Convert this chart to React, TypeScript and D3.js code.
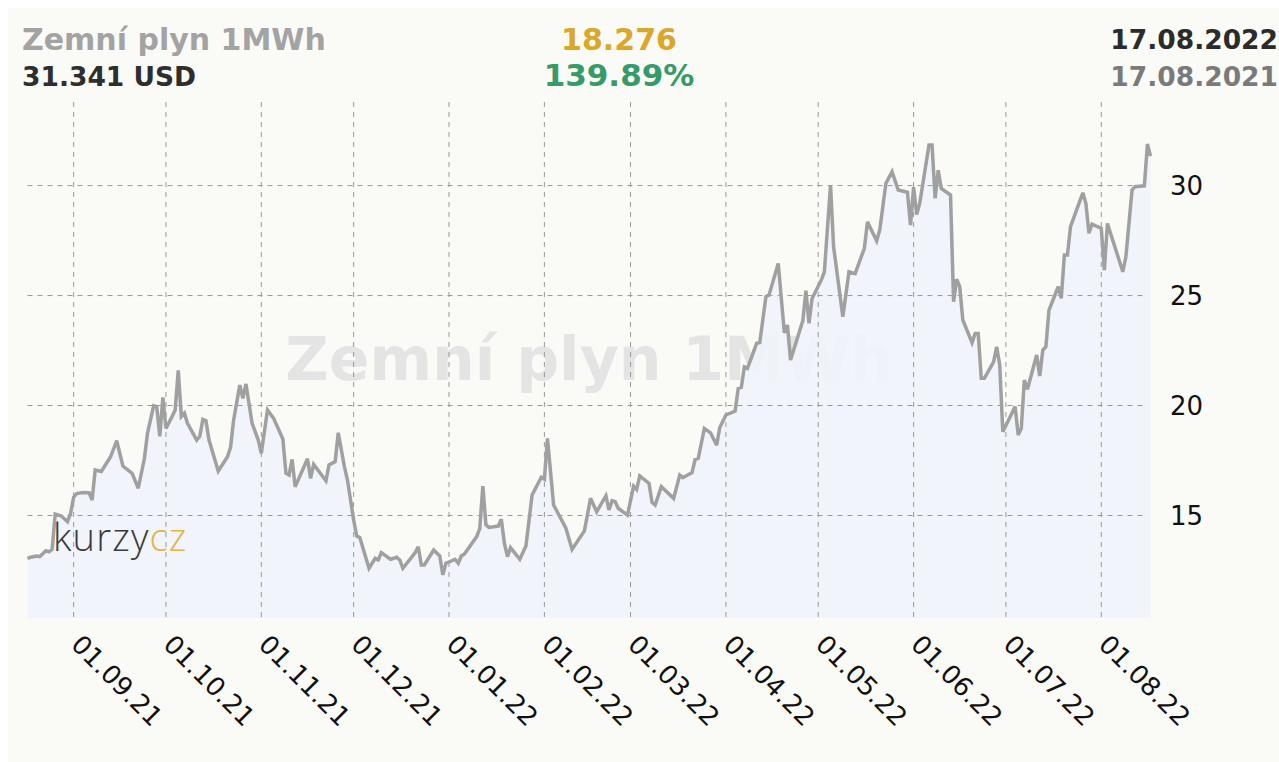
import React from 'react';
import * as d3 from 'd3';

// ---- data ----
const dates: string[] = [
  '2021-08-17','2021-08-18','2021-08-20','2021-08-21','2021-08-23','2021-08-24','2021-08-25','2021-08-26','2021-08-28','2021-08-30','2021-08-31',
  '2021-09-01','2021-09-02','2021-09-04','2021-09-06','2021-09-07','2021-09-08','2021-09-10','2021-09-13','2021-09-15','2021-09-17','2021-09-20','2021-09-22','2021-09-24','2021-09-25','2021-09-27','2021-09-28','2021-09-29','2021-09-30',
  '2021-10-01','2021-10-03','2021-10-04','2021-10-05','2021-10-06','2021-10-07','2021-10-08','2021-10-11','2021-10-12','2021-10-13','2021-10-14','2021-10-15','2021-10-18','2021-10-21','2021-10-22','2021-10-23','2021-10-25','2021-10-26','2021-10-27','2021-10-29','2021-10-31',
  '2021-11-01','2021-11-03','2021-11-05','2021-11-08','2021-11-09','2021-11-10','2021-11-11','2021-11-12','2021-11-16','2021-11-17','2021-11-18','2021-11-22','2021-11-23','2021-11-25','2021-11-26','2021-11-28','2021-11-29',
  '2021-12-01','2021-12-02','2021-12-03','2021-12-06','2021-12-08','2021-12-09','2021-12-10','2021-12-13','2021-12-15','2021-12-16','2021-12-17','2021-12-20','2021-12-21','2021-12-22','2021-12-23','2021-12-24','2021-12-27','2021-12-29','2021-12-30','2021-12-31',
  '2022-01-03','2022-01-04','2022-01-05','2022-01-06','2022-01-10','2022-01-11','2022-01-12','2022-01-13','2022-01-14','2022-01-17','2022-01-18','2022-01-19','2022-01-20','2022-01-21','2022-01-24','2022-01-26','2022-01-28','2022-01-31',
  '2022-02-01','2022-02-02','2022-02-04','2022-02-08','2022-02-10','2022-02-14','2022-02-16','2022-02-18','2022-02-21','2022-02-22','2022-02-23','2022-02-24','2022-02-25','2022-02-28',
  '2022-03-02','2022-03-03','2022-03-04','2022-03-07','2022-03-08','2022-03-09','2022-03-11','2022-03-15','2022-03-17','2022-03-18','2022-03-21','2022-03-22','2022-03-23','2022-03-25','2022-03-27','2022-03-29','2022-03-30',
  '2022-04-01','2022-04-04','2022-04-05','2022-04-06','2022-04-07','2022-04-08','2022-04-11','2022-04-12','2022-04-14','2022-04-15','2022-04-18','2022-04-20','2022-04-21','2022-04-22','2022-04-26','2022-04-27','2022-04-28','2022-04-29',
  '2022-05-02','2022-05-03','2022-05-05','2022-05-06','2022-05-09','2022-05-11','2022-05-13','2022-05-16','2022-05-17','2022-05-20','2022-05-21','2022-05-23','2022-05-25','2022-05-27','2022-05-30','2022-05-31',
  '2022-06-01','2022-06-02','2022-06-03','2022-06-06','2022-06-07','2022-06-08','2022-06-09','2022-06-10','2022-06-13','2022-06-14','2022-06-15','2022-06-16','2022-06-17','2022-06-20','2022-06-21','2022-06-22','2022-06-23','2022-06-24','2022-06-27','2022-06-28','2022-06-29','2022-06-30',
  '2022-07-04','2022-07-05','2022-07-06','2022-07-07','2022-07-08','2022-07-11','2022-07-12','2022-07-13','2022-07-14','2022-07-15','2022-07-18','2022-07-19','2022-07-20','2022-07-21','2022-07-22','2022-07-26','2022-07-27','2022-07-28','2022-07-29',
  '2022-08-01','2022-08-02','2022-08-03','2022-08-08','2022-08-09','2022-08-11','2022-08-12','2022-08-15','2022-08-16','2022-08-17',
];

const prices: number[] = [
  13.05,13.1,13.16,13.13,13.4,13.35,13.46,15.07,14.98,14.72,15.1,
  15.83,16.0,16.05,16.04,15.7,17.07,17.0,17.67,18.4,17.25,16.92,16.24,17.6,18.74,19.99,19.95,18.6,20.37,
  18.96,19.5,19.8,21.6,19.5,19.65,19.19,18.43,18.6,19.37,19.31,18.43,17.02,17.67,18.1,19.34,20.93,20.33,20.98,19.19,18.43,
  17.83,19.8,19.42,18.48,16.92,16.84,17.55,16.31,17.58,16.69,17.33,16.58,17.3,17.45,18.76,17.22,16.61,
  14.8,14.07,14.0,12.6,13.05,12.98,13.31,13.01,13.1,12.98,12.6,13.13,13.31,13.58,12.75,12.75,13.43,13.16,12.3,12.83,
  13.01,12.83,13.16,13.25,14.04,14.42,16.34,14.57,14.46,14.52,14.83,13.74,13.13,13.54,13.01,13.61,15.93,16.74,
  16.65,18.51,15.48,14.42,13.46,14.3,15.78,15.17,15.9,15.25,15.67,15.63,15.33,15.02,
  16.34,16.19,16.8,16.46,15.6,15.48,16.31,15.78,16.84,16.72,16.95,17.55,17.6,18.96,18.76,18.2,19.0,
  19.57,19.75,20.78,20.82,21.76,21.69,22.83,22.86,24.95,25.02,26.46,23.31,23.66,22.07,23.86,25.22,23.74,24.87,
  25.7,26.08,30.02,27.22,24.04,26.08,26.0,27.15,28.35,27.49,27.98,30.1,30.63,29.8,29.7,28.2,
  29.93,28.68,29.2,31.84,31.84,29.42,30.7,29.87,29.57,24.72,25.74,25.4,23.89,22.86,23.28,23.28,21.24,21.24,21.99,22.67,21.84,18.81,
  19.95,18.66,18.96,21.16,20.74,22.3,21.34,22.52,22.67,24.34,25.4,24.87,26.84,26.84,28.13,29.67,29.19,27.83,28.25,
  28.05,26.16,28.28,26.08,26.76,29.8,29.95,29.99,31.89,31.341,
];

const xTickDates: string[] = [
  '2021-09-01','2021-10-01','2021-11-01','2021-12-01','2022-01-01','2022-02-01',
  '2022-03-01','2022-04-01','2022-05-01','2022-06-01','2022-07-01','2022-08-01',
];
const yTicks: number[] = [15, 20, 25, 30];
const xStart = '2021-08-17';
const xEnd = '2022-08-17';
const yMin = 10.34;
const yMax = 33.8;

const title = 'Zemní plyn 1MWh';
const lastValueText = '31.341 USD';
const changeText = '18.276';
const changePctText = '139.89%';
const dateToText = '17.08.2022';
const dateFromText = '17.08.2021';

// ---- layout ----
const W = 1279;
const H = 762;
const plotLeft = 27.5;
const plotRight = 1150.5;
const plotTop = 102;
const plotBottom = 618;
const FONT = '"DejaVu Sans", Verdana, sans-serif';

export default function App() {
  const parse = d3.timeParse('%Y-%m-%d');
  const fmt = d3.timeFormat('%d.%m.%y');
  const data: [Date, number][] = dates.map((d, i) => [parse(d) as Date, prices[i]]);

  const x = d3.scaleTime()
    .domain([parse(xStart) as Date, parse(xEnd) as Date])
    .range([plotLeft, plotRight]);
  const y = d3.scaleLinear().domain([yMin, yMax]).range([plotBottom, plotTop]);

  const line = d3.line<[Date, number]>().x(d => x(d[0])).y(d => y(d[1]));
  const area = d3.area<[Date, number]>().x(d => x(d[0])).y0(plotBottom).y1(d => y(d[1]));

  const xTicks = xTickDates.map(s => parse(s) as Date);
  const cx = (plotLeft + plotRight) / 2;

  return (
    <svg width={W} height={H} style={{ position: 'absolute', left: 0, top: 0, display: 'block' }}
      xmlns="http://www.w3.org/2000/svg">
      <rect x={0} y={0} width={W} height={H} fill="#ffffff" />
      <rect x={8} y={8} width={W - 8} height={H - 8} fill="#fafaf7" />

      {/* header */}
      <text x={22} y={50} fontFamily={FONT} fontWeight="bold" fontSize={30} fill="#a3a3a3">{title}</text>
      <text x={22} y={86} fontFamily={FONT} fontWeight="bold" fontSize={26.5} fill="#2e2e2e">{lastValueText}</text>
      <text x={619} y={50} textAnchor="middle" fontFamily={FONT} fontWeight="bold" fontSize={30} fill="#dba728">{changeText}</text>
      <text x={619} y={86} textAnchor="middle" fontFamily={FONT} fontWeight="bold" fontSize={31} fill="#379a69">{changePctText}</text>
      <text x={1278} y={49} textAnchor="end" fontFamily={FONT} fontWeight="bold" fontSize={26.5} fill="#2b2b2b">{dateToText}</text>
      <text x={1278} y={86} textAnchor="end" fontFamily={FONT} fontWeight="bold" fontSize={26.5} fill="#7a7a7a">{dateFromText}</text>

      {/* watermark */}
      <text x={cx} y={380} textAnchor="middle" fontFamily={FONT} fontWeight="bold" fontSize={60} fill="#e4e4e4">{title}</text>

      {/* area */}
      <path d={area(data) || ''} fill="#f0f3fa" fillOpacity={0.92} />

      {/* grid */}
      {yTicks.map(t => (
        <line key={'h' + t} x1={plotLeft} x2={plotRight - 3} y1={y(t)} y2={y(t)}
          stroke="#999" strokeWidth={1} strokeDasharray="5,5" />
      ))}
      {xTicks.map((t, i) => (
        <line key={'v' + i} x1={x(t)} x2={x(t)} y1={plotTop} y2={plotBottom}
          stroke="#999" strokeWidth={1} strokeDasharray="5,5" />
      ))}

      {/* line */}
      <path d={line(data) || ''} fill="none" stroke="#a0a0a0" strokeWidth={3.5} strokeLinejoin="miter" strokeMiterlimit={3} />

      {/* logo */}
      <text x={53} y={551} fontFamily='"Open Sans", Lato, sans-serif' fontWeight={200} fontSize={38} letterSpacing={1.2} fill="#3a3a3a">
        kurzy<tspan fill="#e2b54a">cz</tspan>
      </text>

      {/* y labels */}
      {yTicks.map(t => (
        <text key={'yl' + t} x={1170} y={y(t)} dy="0.36em" fontFamily={FONT} fontSize={26} fill="#111">{t}</text>
      ))}

      {/* x labels */}
      {xTicks.map((t, i) => (
        <text key={'xl' + i} transform={`translate(${x(t) - 4},646) rotate(45)`}
          fontFamily={FONT} fontSize={26} fill="#111">{fmt(t)}</text>
      ))}
    </svg>
  );
}
